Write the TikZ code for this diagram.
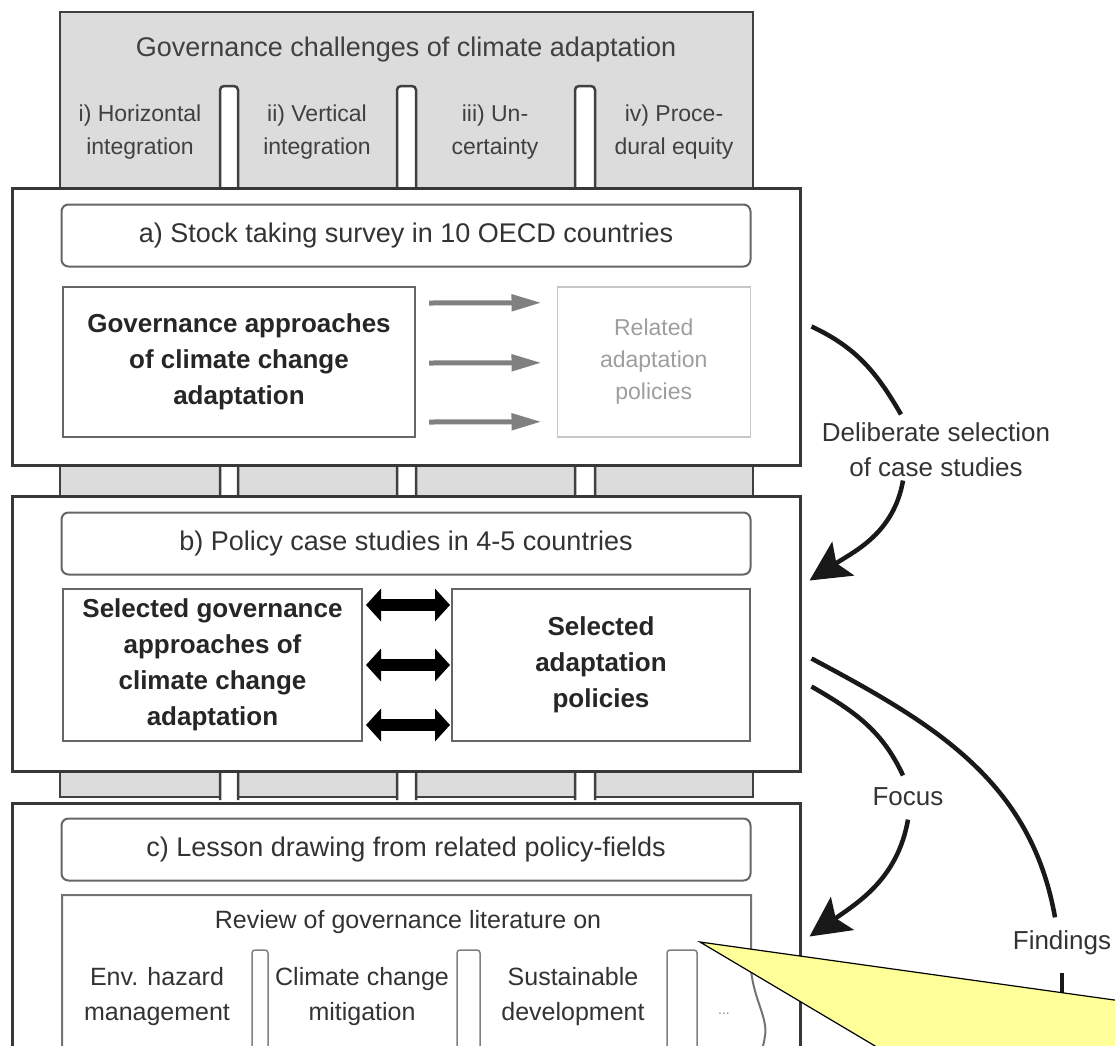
\documentclass[tikz,border=0pt]{standalone}
\usepackage{fontspec}
\setmainfont{Liberation Sans}
\usetikzlibrary{arrows.meta,positioning}

\definecolor{chalgray}{HTML}{DCDCDC}
\definecolor{framegray}{HTML}{383838}
\definecolor{notefill}{HTML}{FFFF99}

\tikzset{
	chalbox/.style={draw=black!75, line width=2.5pt, fill=chalgray, minimum width=693pt, minimum height=785pt, inner sep=0pt},
	chaltab/.style={draw=black!75, line width=2.5pt, fill=white, rounded corners=4pt},
	collabel/.style={font=\fontsize{23}{33}\selectfont, text=black!75, align=center},
	stage/.style={draw=framegray, line width=3pt, fill=white, minimum width=788pt, minimum height=275pt, inner sep=0pt},
	headbox/.style={draw=black!60, line width=2pt, rounded corners=7pt, fill=white, minimum width=689pt, minimum height=62pt, font=\fontsize{27}{32}\selectfont, text=black!80},
	boldbox/.style={draw=black!60, line width=2pt, minimum height=150pt, inner sep=0pt, font=\bfseries\fontsize{26}{36}\selectfont, text=black!85, align=center},
	palebox/.style={draw=black!22, line width=1.5pt, minimum height=150pt, inner sep=0pt, font=\fontsize{23}{32}\selectfont, text=black!38, align=center},
	litline/.style={draw=black!55, line width=2pt},
	littab/.style={draw=black!50, line width=1.5pt, rounded corners=3pt},
	litlabel/.style={font=\fontsize{25}{35}\selectfont, text=black!80, align=center},
	grayarrow/.style={draw=black!50, line width=5pt, -{Triangle[length=30pt,width=16pt]}},
	duoarrow/.style={draw=black, line width=12pt, {Triangle[length=15pt,width=32pt]}-{Triangle[length=15pt,width=32pt]}},
	note/.style={font=\fontsize{26}{35}\selectfont, text=black!80, align=center},
	flow/.style={draw=black!90, line width=4.5pt},
	bigtip/.style={-{Stealth[length=40pt,width=40pt,inset=8pt]}}
}

\begin{document}
\begin{tikzpicture}[x=1pt,y=-1pt]
	\clip (0,0) rectangle (1115,1045);
	\node (chal) [chalbox] at (406.5,404.5) {};
	\foreach \xa/\xb in {220/238, 397/416, 575/595}
		\draw [chaltab] (\xa,800) -- (\xa,86) -- (\xb,86) -- (\xb,800);
	\node (chaltitle) [font=\fontsize{27}{32}\selectfont, text=black!75] at (406,50) {Governance challenges of climate adaptation};
	\node (horiz) [collabel] at (140,132) {i) Horizontal\\integration};
	\node (vert) [collabel] at (317,132) {ii) Vertical\\integration};
	\node (uncert) [collabel] at (495,132) {iii) Un-\\certainty};
	\node (equity) [collabel] at (674,132) {iv) Proce-\\dural equity};

	\node (boxa) [stage, minimum height=277pt] at (406,326.5) {};
	\node (boxb) [stage, below=28pt of boxa] {};
	\node (boxc) [stage, below=29pt of boxb] {};

	\node (titlea) [headbox, below=17pt of boxa.north] {a) Stock taking survey in 10 OECD countries};
	\node (govapp) [boldbox, minimum width=352pt, anchor=north west] at (62,286) {Governance approaches\\of climate change\\adaptation};
	\node (related) [palebox, minimum width=193pt, anchor=north east] at (751,286) {Related\\adaptation\\policies};
	\foreach \dy in {59,-1,-60}
		\draw [grayarrow] ([xshift=13pt,yshift=\dy pt]govapp.east) -- ([xshift=-15pt,yshift=\dy pt]related.west);

	\node (titleb) [headbox, below=17pt of boxb.north] {b) Policy case studies in 4-5 countries};
	\node (selgov) [boldbox, minimum width=299pt, minimum height=152pt, anchor=north west] at (62,588) {Selected governance\\approaches of\\climate change\\adaptation};
	\node (selpol) [boldbox, minimum width=298pt, minimum height=152pt, anchor=north east] at (751,588) {Selected\\adaptation\\policies};
	\foreach \dy in {60,0,-60}
		\draw [duoarrow] ([xshift=3pt,yshift=\dy pt]selgov.east) -- ([xshift=-1pt,yshift=\dy pt]selpol.west);

	\node (titlec) [headbox, below=16pt of boxc.north] {c) Lesson drawing from related policy-fields};
	\draw [litline, fill=white] (62,1080) -- (62,895) -- (751,895) -- (751,970) .. controls (754,1000) and (768,1018) .. (765,1036) .. controls (763,1050) and (759,1056) .. (755,1070);
	\foreach \xa/\xb in {252/268, 457/480, 667/697}
		\draw [littab] (\xa,1080) -- (\xa,950) -- (\xb,950) -- (\xb,1080);
	\node (review) [litlabel] at (408,922) {Review of governance literature on};
	\node (hazard) [litlabel] at (157,997) {Env. hazard\\management};
	\node (mitig) [litlabel] at (362,997) {Climate change\\mitigation};
	\node (sustain) [litlabel] at (573,997) {Sustainable\\development};
	\node (more) [font=\fontsize{14}{16}\selectfont, text=black!45] at (724,1014) {...};

	\node (delib) [note] at (936,450) {Deliberate selection\\of case studies};
	\node (focus) [note] at (908,797) {Focus};
	\node (findings) [note] at (1062,943) {Findings};
	\coordinate (findout) at (1062,1070);

	\draw [flow] ([xshift=10pt]boxa.east) to[out=-25,in=120] ([xshift=-35pt,yshift=5pt]delib.north);
	\draw [flow, bigtip] ([xshift=-33pt]delib.south) to[out=-100,in=33] ([xshift=8pt,yshift=53pt]boxb.east);
	\draw [flow] ([xshift=10pt,yshift=-53pt]boxb.east) to[out=-30,in=115] ([xshift=-5pt,yshift=9pt]focus.north);
	\draw [flow, bigtip] ([yshift=-10pt]focus.south) to[out=-100,in=35] ([xshift=8pt,yshift=4pt]boxc.east);
	\draw [flow] ([xshift=10pt,yshift=-25pt]boxb.east) to[out=-28,in=100] ([xshift=-7pt,yshift=10pt]findings.north);
	\draw [flow] ([yshift=-14pt]findings.south) -- (findout);

	\draw [draw=black, line width=1.2pt, fill=notefill] (700,942) -- (1200,1012) -- (1200,1100) -- (966,1100) -- cycle;
\end{tikzpicture}
\end{document}
